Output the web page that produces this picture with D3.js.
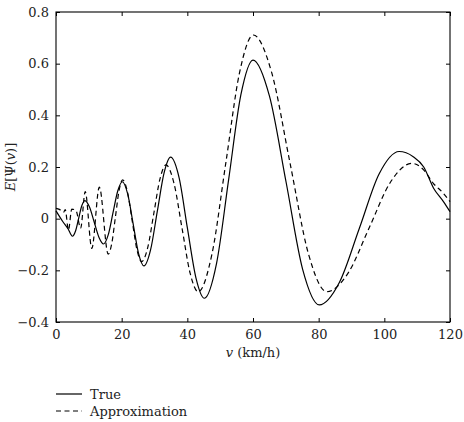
<!DOCTYPE html>
<html>
<head>
<meta charset="utf-8">
<script src="https://cdn.jsdelivr.net/npm/d3@7"></script>
<style>
  body { margin: 0; background: #fff; }
  svg text { fill: #222; }
</style>
</head>
<body>
<script>
// values: [v in km/h, E]
const trueCurve = [
  [0, 0.03], [2, -0.01], [3.7, -0.04], [5, -0.068], [5.95, -0.048], [6.9, 0.001], [7.85, 0.05],
  [8.8, 0.07], [10.2, 0.045], [11.65, -0.014], [13.1, -0.073], [14.5, -0.098], [15.9, -0.063],
  [17.35, 0.022], [18.8, 0.107], [20.2, 0.143], [21.85, 0.095], [23.5, -0.02], [25.15, -0.135],
  [26.8, -0.183], [28.8, -0.121], [30.85, 0.028], [32.9, 0.176], [34.9, 0.238], [37.5, 0.158],
  [40, -0.035], [42.6, -0.228], [45.2, -0.308], [48.9, -0.173], [52.6, 0.153], [56.3, 0.479],
  [60, 0.614], [65, 0.475], [70.1, 0.14], [75.1, -0.195], [80.2, -0.334], [86.3, -0.247],
  [92.4, -0.037], [98.4, 0.173], [104.5, 0.26], [108.8, 0.24], [112, 0.2], [115, 0.118],
  [118, 0.066], [120, 0.027]
];
const approxCurve = [
  [0, 0.04], [1, 0.036], [2.3, 0.025], [2.8, 0.035], [3.8, -0.044], [4.8, 0.037], [6.1, 0.031],
  [7.5, -0.037], [8.9, 0.105], [10.9, -0.115], [13.2, 0.122], [15.9, -0.137], [17, -0.095],
  [18.1, 0.007], [19.2, 0.108], [20.3, 0.15], [21.75, 0.104], [23.2, -0.008], [24.65, -0.12],
  [26.1, -0.166], [27.95, -0.111], [29.8, 0.021], [31.65, 0.153], [33.5, 0.208], [35.95, 0.136],
  [38.4, -0.038], [40.85, -0.211], [43.3, -0.283], [47.5, -0.137], [51.7, 0.214], [55.9, 0.565],
  [60.1, 0.711], [65.7, 0.565], [71.3, 0.214], [76.9, -0.137], [82.5, -0.283], [89, -0.21],
  [95.4, -0.035], [101.85, 0.141], [108.3, 0.214], [111.9, 0.19], [114.9, 0.137], [118, 0.098],
  [120, 0.066]
];
const xTicks = [0, 20, 40, 60, 80, 100, 120];
const yTicks = [-0.4, -0.2, 0, 0.2, 0.4, 0.6, 0.8];
const seriesNames = ["True", "Approximation"];

const w = 464, h = 422;
const m = { left: 56, right: 450, top: 12, bottom: 322 };
const serif = "DejaVu Serif";
const dash = "5,3.5";

const svg = d3.select("body").append("svg")
  .attr("width", w)
  .attr("height", h)
  .attr("font-family", serif);

const x = d3.scaleLinear().domain([0, 120]).range([m.left, m.right]);
const y = d3.scaleLinear().domain([-0.4, 0.8]).range([m.bottom, m.top]);

const fmt = d => d < 0 ? "\u2212" + Math.abs(d) : String(d);

// axes with inward ticks on all four sides
function styleAxis(g) {
  g.select(".domain").remove();
  g.attr("font-family", serif).attr("font-size", 13);
  g.selectAll(".tick line").attr("stroke", "#000");
}
svg.append("g")
  .attr("transform", "translate(0," + m.bottom + ")")
  .call(d3.axisBottom(x).tickValues(xTicks).tickSizeInner(-4).tickSizeOuter(0).tickPadding(8).tickFormat(fmt))
  .call(styleAxis);
svg.append("g")
  .attr("transform", "translate(0," + m.top + ")")
  .call(d3.axisTop(x).tickValues(xTicks).tickSizeInner(-4).tickSizeOuter(0).tickFormat(""))
  .call(styleAxis);
svg.append("g")
  .attr("transform", "translate(" + m.left + ",0)")
  .call(d3.axisLeft(y).tickValues(yTicks).tickSizeInner(-4).tickSizeOuter(0).tickPadding(7).tickFormat(fmt))
  .call(styleAxis);
svg.append("g")
  .attr("transform", "translate(" + m.right + ",0)")
  .call(d3.axisRight(y).tickValues(yTicks).tickSizeInner(-4).tickSizeOuter(0).tickFormat(""))
  .call(styleAxis);

svg.append("rect")
  .attr("x", m.left).attr("y", m.top)
  .attr("width", m.right - m.left).attr("height", m.bottom - m.top)
  .attr("fill", "none").attr("stroke", "#000").attr("stroke-width", 1.1);

const line = d3.line()
  .x(d => x(d[0]))
  .y(d => y(d[1]))
  .curve(d3.curveMonotoneX);

svg.append("path")
  .datum(trueCurve)
  .attr("d", line)
  .attr("fill", "none").attr("stroke", "#000").attr("stroke-width", 1.2);

svg.append("path")
  .datum(approxCurve)
  .attr("d", line)
  .attr("fill", "none").attr("stroke", "#000").attr("stroke-width", 1.2)
  .attr("stroke-dasharray", dash);

// axis titles
const xt = svg.append("text")
  .attr("x", (m.left + m.right) / 2)
  .attr("y", 357)
  .attr("text-anchor", "middle")
  .attr("font-size", 13);
xt.append("tspan").attr("font-style", "italic").text("v");
xt.append("tspan").text(" (km/h)");

const yt = svg.append("text")
  .attr("transform", "translate(15," + (m.top + m.bottom) / 2 + ") rotate(-90)")
  .attr("text-anchor", "middle")
  .attr("font-size", 13);
yt.append("tspan").attr("font-style", "italic").text("E");
yt.append("tspan").text("[\u03A8(");
yt.append("tspan").attr("font-style", "italic").text("v");
yt.append("tspan").text(")]");

// legend
const legend = svg.append("g");
seriesNames.forEach((name, i) => {
  const ly = 394 + i * 17;
  legend.append("line")
    .attr("x1", 56).attr("x2", 82)
    .attr("y1", ly).attr("y2", ly)
    .attr("stroke", "#000").attr("stroke-width", 1.2)
    .attr("stroke-dasharray", i === 1 ? dash : null);
  legend.append("text")
    .attr("x", 90).attr("y", ly + 4.5)
    .attr("font-size", 13)
    .text(name);
});
</script>
</body>
</html>
